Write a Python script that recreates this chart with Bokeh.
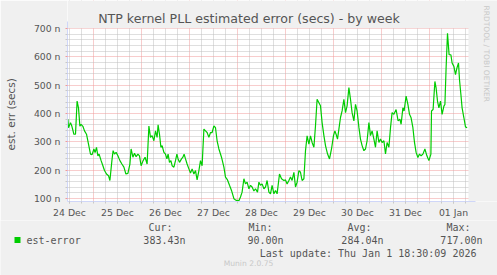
import math
from bokeh.plotting import figure
from bokeh.models import FixedTicker, Range1d, Label, BoxAnnotation
from bokeh.core.properties import value
from bokeh.embed import file_html
from bokeh.resources import INLINE

# time in hours since 24 Dec 00:00
hours = [
    11.2, 11.5, 12.5, 13.2, 14.2, 15.0, 15.8, 16.5, 17.2, 17.8, 18.7, 19.5, 20.5, 21.5, 22.5, 23.3, 24.2, 24.8, 25.5, 26.2,
    26.8, 27.8, 28.7, 29.5, 30.5, 31.5, 32.2, 33.2, 33.8, 34.5, 35.3, 36.2, 37.2, 38.2, 39.2, 40.2, 41.2, 42.2, 42.8, 43.7,
    44.5, 45.3, 46.2, 47.0, 47.8, 48.8, 49.8, 50.8, 51.7,
    52.5, 53.3, 54.2, 55.0, 55.8, 56.3, 57.0, 57.7, 58.3, 59.2, 60.0, 60.7, 61.3, 62.0, 62.7, 63.3, 64.2, 65.0, 65.7, 66.3,
    67.0, 68.0, 68.7, 69.3, 70.0, 70.8, 71.7, 72.5, 73.3, 74.2, 75.0, 75.8, 76.7, 77.5, 78.3, 79.2, 80.0, 80.8, 81.7, 82.5,
    83.3, 84.2, 85.0, 85.8, 86.7, 88.0, 89.2, 90.0, 91.0, 92.0,
    93.0, 94.2, 95.3, 96.7, 97.5, 98.3, 99.2, 100.0, 100.8, 101.7, 102.5, 103.3, 104.2, 105.0, 106.0, 106.7, 107.5, 108.3,
    109.2, 110.0, 110.8, 111.7, 112.5, 113.3, 114.2, 115.0, 115.8, 117.0, 118.0, 119.2, 120.0, 120.8, 121.7, 122.5, 123.3,
    124.2, 125.0, 125.8, 126.7, 127.5, 128.3, 129.2, 130.0, 130.8, 131.7, 132.5,
    133.3, 134.2, 135.0, 135.8, 136.7, 137.5, 138.3, 139.2, 140.0, 141.0, 142.0, 143.0, 144.0, 144.7, 145.3, 146.0, 146.7,
    147.5, 148.3, 149.2, 150.0, 150.8, 151.7, 152.5, 153.3, 154.2, 155.0, 155.8, 156.7, 157.5, 158.3, 159.2, 160.0, 160.8,
    161.7, 162.5, 163.3, 164.2, 165.0, 165.8, 166.7, 167.5, 168.3, 169.2, 170.0, 170.8, 171.7, 172.5,
    173.3, 174.2, 175.3, 176.3, 177.2, 177.8, 178.7, 179.3, 180.3, 181.2, 182.0, 182.8, 183.7, 184.5, 185.3, 186.2, 187.0,
    187.8, 188.7, 189.7, 190.7, 191.7, 192.7, 193.0, 193.8, 194.7, 195.3, 196.0, 196.7, 197.5, 198.3, 199.2, 199.7, 200.3,
    201.0, 201.8, 202.7, 203.3, 204.2, 205.0, 205.7, 206.5, 207.0, 207.7, 208.3, 209.2, 210.0, 210.8,
]
# est-error in nanoseconds
est_error = [
    380, 350, 368, 355, 327, 327, 444, 420, 355, 362, 355, 339, 327, 292, 257, 255, 275, 262, 281, 251,
    257, 234, 216, 199, 187, 181, 164, 234, 269, 257, 263, 251, 234, 222, 211, 187, 189, 222, 275, 246,
    260, 248, 257, 251, 216, 234, 246, 222, 356,
    316, 322, 304, 339, 316, 360, 327, 281, 287, 263, 257, 240, 257, 228, 234, 216, 211, 234, 257, 240,
    228, 240, 246, 257, 240, 222, 205, 190, 205, 187, 199, 166, 199, 234, 216, 345, 339, 333, 316, 333,
    333, 356, 350, 304, 275, 246, 211, 176, 166, 147,
    129, 100, 94, 93, 106, 123, 170, 152, 158, 135, 147, 141, 127, 135, 123, 158, 147, 152,
    135, 141, 164, 123, 117, 147, 117, 129, 117, 187, 170, 164, 166, 152, 164, 176, 164,
    193, 141, 158, 199, 193, 164, 170, 269, 321, 292, 321,
    298, 281, 357, 450, 438, 427, 368, 322, 287, 258, 240, 275, 322, 339, 327, 310, 345,
    386, 409, 450, 403, 427, 491, 450, 403, 374, 432, 409, 351, 310, 287, 269, 275, 304,
    368, 322, 339, 310, 281, 339, 298, 310, 298, 304, 258, 298, 281, 350,
    403, 397, 414, 374, 380, 362, 420, 409, 461, 432, 397, 385, 350, 298, 263, 245, 257,
    251, 257, 275, 251, 234, 257, 409, 414, 513, 490, 444, 420, 444, 397, 426, 432, 560,
    683, 607, 607, 578, 566, 537, 560, 578, 519, 467, 420, 385, 353, 350,
]

x_label_hours = [12, 36, 60, 84, 108, 132, 156, 180, 204]
x_labels = ["24 Dec", "25 Dec", "26 Dec", "27 Dec", "28 Dec", "29 Dec", "30 Dec", "31 Dec", "01 Jan"]
day_starts = [24, 48, 72, 96, 120, 144, 168, 192]
y_ticks = [100, 200, 300, 400, 500, 600, 700]
y_labels = ["100 n", "200 n", "300 n", "400 n", "500 n", "600 n", "700 n"]

title = "NTP kernel PLL estimated error (secs) - by week"
y_title = "est. err (secs)"
series_name = "est-error"
series_color = "#00CC00"
stat_heads = ["Cur:", "Min:", "Avg:", "Max:"]
stat_values = ["383.43n", "90.00n", "284.04n", "717.00n"]
last_update = "Last update: Thu Jan  1 18:30:09 2026"
footer = "Munin 2.0.75"
side_note = "RRDTOOL / TOBI OETIKER"

W = 497
MAIN_H = 220
LEG_H = 55
FL, FR, FT, FB = 67, 468, 28, 202       # pixel box of the graph area
X0, X1, Y0, Y1 = 11.0, 211.5, 90.0, 700.0  # data extent of the graph area
SY = (FB - FT) / (Y1 - Y0)               # px per unit (y)
SX = (FR - FL) / (X1 - X0)               # px per hour

axis_col = "#CFD6F8"
text_col = "#555555"
faint_col = "#C8C8C8"
bg = "#F0F0F0"

# the frame reaches the top and right edges of the canvas so that the title,
# credit text and axis extensions can be drawn without being clipped
p = figure(width=W, height=MAIN_H, output_backend="svg", toolbar_location=None,
           x_range=Range1d(X0, X1 + (W - FR) / SX), y_range=Range1d(Y0, Y1 + FT / SY),
           min_border_left=FL, min_border_right=0, min_border_top=0, min_border_bottom=MAIN_H - FB,
           background_fill_color="#FFFFFF", border_fill_color=bg, outline_line_color=None)

six_h = [h for h in range(6, 216, 6)]
minor_x = [h for h in six_h if h % 24 != 0]
minor_y = [v for v in range(100, 701, 20) if v % 100 != 0]

p.xgrid.ticker = FixedTicker(ticks=day_starts, minor_ticks=minor_x)
p.ygrid.ticker = FixedTicker(ticks=y_ticks, minor_ticks=minor_y)
for g in (p.xgrid, p.ygrid):
    g.grid_line_color = "#F09A9A"
    g.grid_line_dash = "1 1"
    g.grid_line_width = 1
    g.minor_grid_line_color = "#BEBEBE"
    g.minor_grid_line_dash = "1 1"
    g.minor_grid_line_width = 1

# grey margins above and right of the graph area (hide grid overrun)
p.add_layout(BoxAnnotation(bottom=Y1, fill_color=bg, fill_alpha=1.0, line_color=None, level="underlay"))
p.add_layout(BoxAnnotation(left=X1, fill_color=bg, fill_alpha=1.0, line_color=None, level="underlay"))

p.xaxis.ticker = FixedTicker(ticks=x_label_hours, minor_ticks=six_h)
p.xaxis.major_label_overrides = dict(zip(x_label_hours, x_labels))
p.xaxis.bounds = (X0, X1 + 7 / SX)
p.yaxis.ticker = FixedTicker(ticks=y_ticks, minor_ticks=minor_y)
p.yaxis.major_label_overrides = dict(zip(y_ticks, y_labels))
p.yaxis.bounds = (Y0, Y1 + 7 / SY)
for ax in (p.xaxis, p.yaxis):
    ax.axis_line_color = axis_col
    ax.major_tick_in = 0
    ax.minor_tick_in = 0
    ax.major_label_text_font = "DejaVu Sans"
    ax.major_label_text_font_size = "9.3px"
    ax.major_label_text_color = text_col
p.xaxis.major_tick_out = 2
p.xaxis.minor_tick_out = 2
p.xaxis.major_tick_line_color = faint_col
p.xaxis.minor_tick_line_color = faint_col
p.xaxis.major_label_standoff = 3
p.yaxis.major_tick_out = 2
p.yaxis.minor_tick_out = 2
p.yaxis.major_tick_line_color = "#F09A9A"
p.yaxis.minor_tick_line_color = faint_col
p.yaxis.major_label_standoff = 5
# trailing no-break spaces move the visible label down to the graph area's centre
p.yaxis.axis_label = y_title + "\u00a0" * 8
p.yaxis.axis_label_text_font = "DejaVu Sans"
p.yaxis.axis_label_text_font_size = "10.5px"
p.yaxis.axis_label_text_font_style = "normal"
p.yaxis.axis_label_text_color = text_col
p.yaxis.axis_label_standoff = 14

p.line(hours, est_error, line_color=series_color, line_width=1.2)


def px_x(px):
    return X0 + (px - FL) / SX


def px_y(py):
    return Y1 + (FT - py) / SY


p.add_layout(Label(x=px_x(W / 2), y=px_y(18.3), text=title, text_font="DejaVu Sans", text_font_size="12.6px",
                   text_color=text_col, text_align="center", text_baseline="middle"))
p.add_layout(Label(x=px_x(486), y=px_y(5), text=side_note, text_font="DejaVu Sans", text_font_size="7.5px",
                   text_color=faint_col, text_align="left", text_baseline="middle", angle=-math.pi / 2))

# ---- legend / footer strip (canvas-pixel coordinates, y pointing down) ----
pl = figure(width=W, height=LEG_H, output_backend="svg", toolbar_location=None,
            x_range=Range1d(0, W), y_range=Range1d(MAIN_H + LEG_H, MAIN_H),
            min_border=0, min_border_left=0, min_border_right=0, min_border_top=0, min_border_bottom=0,
            background_fill_color=bg, border_fill_color=bg, outline_line_color=None)
pl.axis.visible = False
pl.grid.visible = False

mono = value("DejaVu Sans Mono")
pl.quad(left=[14], right=[20], top=[236.5], bottom=[242.5], fill_color=series_color, line_color=None)
pl.text(x=[26], y=[240], text=[series_name], text_font=mono, text_font_size=value("10px"),
        text_color=text_col, text_align="left", text_baseline="middle")
pl.text(x=[172, 272, 371, 470], y=[227] * 4, text=stat_heads, text_font=mono, text_font_size=value("10px"),
        text_color=text_col, text_align="right", text_baseline="middle")
pl.text(x=[185, 283, 383, 482], y=[240] * 4, text=stat_values, text_font=mono, text_font_size=value("10px"),
        text_color=text_col, text_align="right", text_baseline="middle")
pl.text(x=[482], y=[253], text=[last_update], text_font=mono, text_font_size=value("10px"),
        text_color=text_col, text_align="right", text_baseline="middle")
pl.text(x=[248], y=[263], text=[footer], text_font=value("DejaVu Sans"), text_font_size=value("7.6px"),
        text_color=faint_col, text_align="center", text_baseline="middle")

open("out.html", "w").write(file_html([p, pl], INLINE))
